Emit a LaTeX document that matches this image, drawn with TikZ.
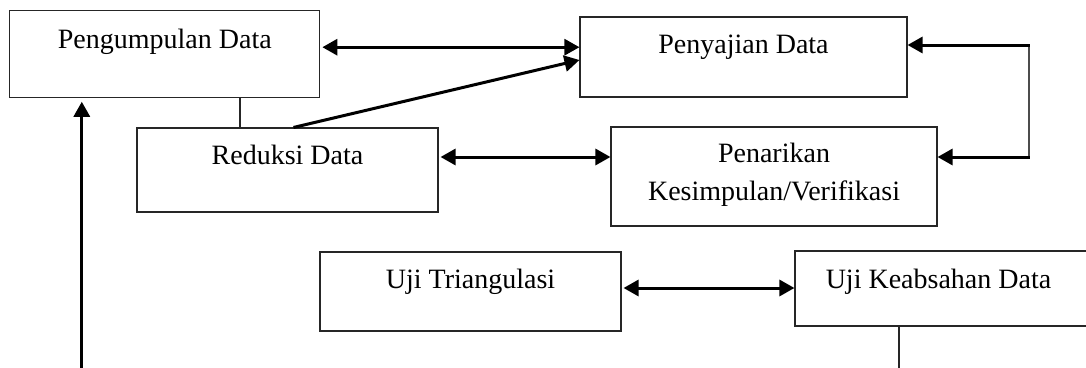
\documentclass[tikz,border=0pt]{standalone}
\usepackage{fontspec}
\setmainfont{Liberation Serif}
\usetikzlibrary{arrows.meta}
\begin{document}
\begin{tikzpicture}[x=1pt,y=-1pt,
 box/.style={draw=black!85,line width=1.1pt,inner sep=0pt},
 lbl/.style={font=\fontsize{28}{38}\selectfont,inner sep=0pt,align=center,text height=18pt,text depth=6pt},
 tip/.style={line width=3pt,-{Triangle[length=15pt,width=16pt]}},
 dtip/.style={line width=3pt,{Triangle[length=15pt,width=16pt]}-{Triangle[length=15pt,width=16pt]}},
 thinline/.style={line width=1.1pt,black!85}]
\useasboundingbox (0,0) rectangle (1086,367);
\clip (0,0) rectangle (1086,367);
% boxes
\node[box,minimum width=310pt,minimum height=87pt] (peng) at (164.8,54.2) {};
\node[box,minimum width=327pt,minimum height=80pt] (peny) at (743.5,57) {};
\node[box,minimum width=301pt,minimum height=84pt] (red) at (287.5,170) {};
\node[box,minimum width=326pt,minimum height=99pt] (pen) at (774,176.5) {};
\node[box,minimum width=301pt,minimum height=79pt] (tri) at (470.5,291.5) {};
\node[box,minimum width=315pt,minimum height=75pt] (keab) at (952.5,288.5) {};
% labels
\node[lbl] (tpeng) at ([yshift=-32pt]peng.north) {Pengumpulan Data};
\node[lbl] (tpeny) at ([yshift=-31pt]peny.north) {Penyajian Data};
\node[lbl] (tred) at ([yshift=-31pt]red.north) {Reduksi Data};
\node[lbl,text height=,text depth=] (tpen) at ([yshift=-48pt]pen.north) {Penarikan\\Kesimpulan/Verifikasi};
\node[lbl] (ttri) at ([yshift=-31pt]tri.north) {Uji Triangulasi};
\node[lbl] (tkeab) at ([yshift=-32pt,xshift=-14pt]keab.north) {Uji Keabsahan Data};
% connectors
\coordinate (a1) at ([yshift=7pt]peng.east);
\draw[dtip,shorten <=2pt] (a1) -- (a1 -| peny.west);
\coordinate (d1) at ([xshift=6pt]red.north);
\draw[tip] (d1) -- ([yshift=-3pt]peny.west);
\coordinate (l1) at ([xshift=-47.5pt]red.north);
\draw[thinline] (l1) -- (l1 |- peng.south);
\coordinate (u1) at ([xshift=-83pt,yshift=-3.5pt]peng.south);
\coordinate (u0) at (81.8,380);
\draw[tip] (u0) -- (u1);
\coordinate (a2) at ([yshift=13pt]red.east);
\draw[dtip,shorten <=2pt] (a2) -- (a2 -| pen.west);
\coordinate (r1) at (1029,45);
\coordinate (r2) at (1029,157);
\draw[line width=1.5pt,black!70] (r1) -- (r2);
\draw[tip] ([xshift=0.7pt]r1) -- (r1 -| peny.east);
\draw[tip] ([xshift=0.7pt]r2) -- (r2 -| pen.east);
\coordinate (a3) at ([yshift=3.5pt]tri.east);
\draw[dtip,shorten <=2pt] (a3) -- (a3 -| keab.west);
\coordinate (k1) at (899,380);
\draw[thinline] (k1 |- keab.south) -- (k1);
\end{tikzpicture}
\end{document}
